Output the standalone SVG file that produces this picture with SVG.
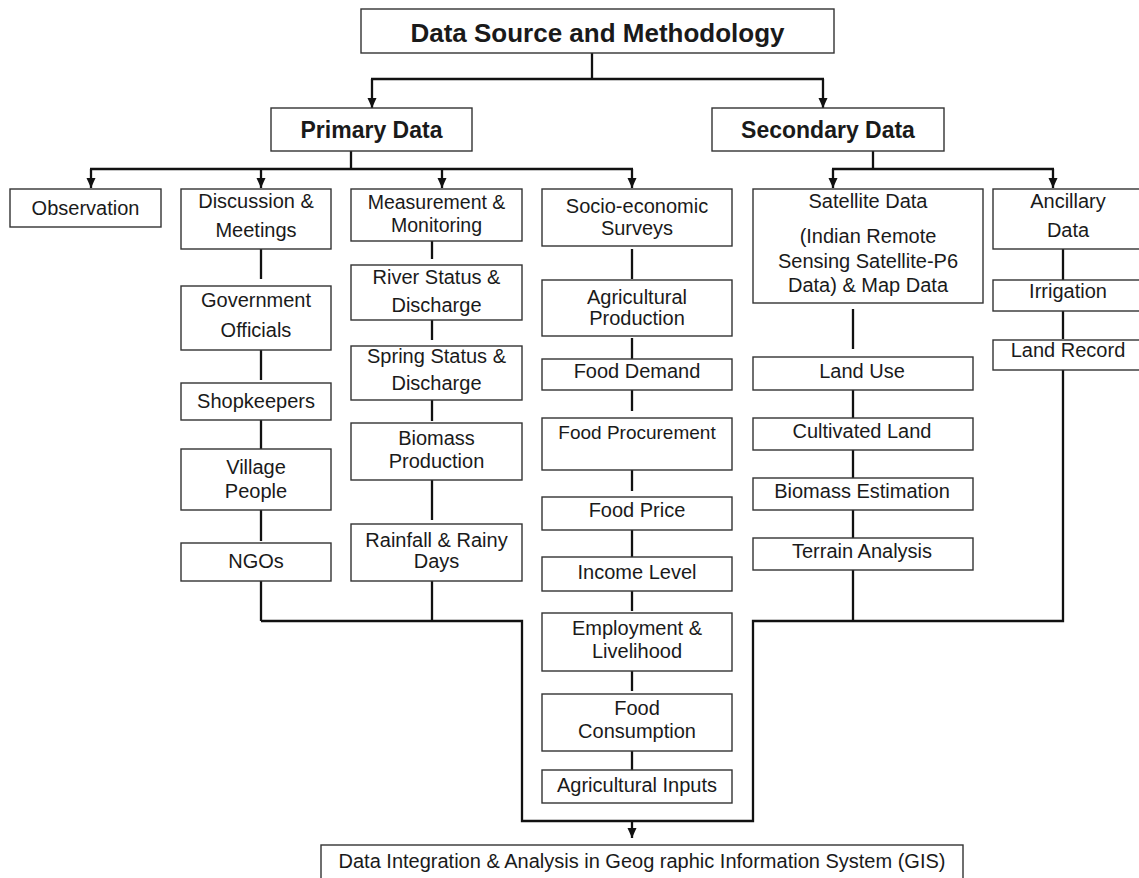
<svg xmlns="http://www.w3.org/2000/svg" width="1139" height="878" viewBox="0 0 1139 878">
<defs>
<marker id="arr" markerUnits="userSpaceOnUse" markerWidth="10" markerHeight="10" viewBox="0 0 10 10" refX="10" refY="5" orient="auto">
<path d="M0,0.5 L10,5 L0,9.5 z" fill="#111"/>
</marker>
</defs>
<style>
rect{fill:#fff;stroke:#333;stroke-width:1.4}
text{font-family:"Liberation Sans",Arial,Helvetica,sans-serif;font-size:20px;fill:#1a1a1a;text-anchor:middle}
.b{font-weight:bold;font-size:23px}
.t{font-weight:bold;font-size:26px}
#connectors line,#connectors polyline,#connectors path{stroke:#111;stroke-width:2.3;fill:none}
</style>
<rect x="0" y="0" width="1139" height="878" style="fill:#fff;stroke:none"/>

<g id="connectors">
<line x1="592" y1="53" x2="592" y2="79"/>
<line x1="371" y1="79" x2="824" y2="79"/>
<line x1="372" y1="79" x2="372" y2="108" marker-end="url(#arr)"/>
<line x1="823" y1="79" x2="823" y2="108" marker-end="url(#arr)"/>
<line x1="351" y1="151" x2="351" y2="169"/>
<line x1="90" y1="169" x2="633" y2="169"/>
<line x1="91" y1="169" x2="91" y2="188" marker-end="url(#arr)"/>
<line x1="261" y1="169" x2="261" y2="188" marker-end="url(#arr)"/>
<line x1="442" y1="169" x2="442" y2="188" marker-end="url(#arr)"/>
<line x1="632" y1="169" x2="632" y2="188" marker-end="url(#arr)"/>
<line x1="873" y1="151" x2="873" y2="169"/>
<line x1="832" y1="169" x2="1054" y2="169"/>
<line x1="833" y1="169" x2="833" y2="188" marker-end="url(#arr)"/>
<line x1="1053" y1="169" x2="1053" y2="188" marker-end="url(#arr)"/>
<line x1="261" y1="249" x2="261" y2="279"/>
<line x1="261" y1="350" x2="261" y2="380"/>
<line x1="261" y1="420" x2="261" y2="450"/>
<line x1="261" y1="510" x2="261" y2="541"/>
<line x1="432" y1="239" x2="432" y2="259"/>
<line x1="432" y1="320" x2="432" y2="340"/>
<line x1="432" y1="400" x2="432" y2="421"/>
<line x1="432" y1="480" x2="432" y2="520"/>
<line x1="632" y1="249" x2="632" y2="279"/>
<line x1="632" y1="338" x2="632" y2="359"/>
<line x1="632" y1="390" x2="632" y2="411"/>
<line x1="632" y1="470" x2="632" y2="491"/>
<line x1="632" y1="530" x2="632" y2="560"/>
<line x1="632" y1="591" x2="632" y2="611"/>
<line x1="632" y1="671" x2="632" y2="691"/>
<line x1="632" y1="751" x2="632" y2="770"/>
<line x1="853" y1="309" x2="853" y2="349"/>
<line x1="853" y1="390" x2="853" y2="419"/>
<line x1="853" y1="450" x2="853" y2="480"/>
<line x1="853" y1="510" x2="853" y2="540"/>
<line x1="1063" y1="249" x2="1063" y2="280"/>
<line x1="1063" y1="311" x2="1063" y2="339"/>
<line x1="261" y1="581" x2="261" y2="621"/>
<line x1="432" y1="581" x2="432" y2="621"/>
<line x1="853" y1="570" x2="853" y2="621"/>
<polyline points="261,621 522,621 522,821 753,821 753,621 1063,621 1063,370"/>
<line x1="632" y1="821" x2="632" y2="838" marker-end="url(#arr)"/>
</g>

<g id="n-title"><rect x="361" y="9" width="473" height="44"/><text class="t" x="597.5" y="42">Data Source and Methodology</text></g>
<g id="n-primary"><rect x="271" y="108" width="201" height="43"/><text class="b" x="371.5" y="138">Primary Data</text></g>
<g id="n-secondary"><rect x="712" y="108" width="232" height="43"/><text class="b" x="828" y="138">Secondary Data</text></g>

<g id="n-observation"><rect x="10" y="189" width="151" height="38"/><text x="85.5" y="215">Observation</text></g>
<g id="n-discussion"><rect x="181" y="189" width="150" height="60"/><text x="256" y="208">Discussion &amp;</text><text x="256" y="237">Meetings</text></g>
<g id="n-measurement"><rect x="351" y="189" width="171" height="52"/><text x="436.5" y="209" style="font-size:19.5px">Measurement &amp;</text><text x="436.5" y="232" style="font-size:19.5px">Monitoring</text></g>
<g id="n-socio"><rect x="542" y="189" width="190" height="57"/><text x="637" y="213">Socio-economic</text><text x="637" y="235">Surveys</text></g>
<g id="n-satellite"><rect x="753" y="189" width="230" height="114"/><text x="868" y="208">Satellite Data</text><text x="868" y="243">(Indian Remote</text><text x="868" y="268">Sensing Satellite-P6</text><text x="868" y="292">Data) &amp; Map Data</text></g>
<g id="n-ancillary"><rect x="993" y="189" width="152" height="60"/><text x="1068" y="208">Ancillary</text><text x="1068" y="237">Data</text></g>

<g id="n-government"><rect x="181" y="286" width="150" height="64"/><text x="256" y="307">Government</text><text x="256" y="337">Officials</text></g>
<g id="n-shopkeepers"><rect x="181" y="383" width="150" height="37"/><text x="256" y="408">Shopkeepers</text></g>
<g id="n-village"><rect x="181" y="449" width="150" height="61"/><text x="256" y="474">Village</text><text x="256" y="498">People</text></g>
<g id="n-ngos"><rect x="181" y="543" width="150" height="38"/><text x="256" y="568">NGOs</text></g>

<g id="n-river"><rect x="351" y="265" width="171" height="55"/><text x="436.5" y="284">River Status &amp;</text><text x="436.5" y="312">Discharge</text></g>
<g id="n-spring"><rect x="351" y="346" width="171" height="54"/><text x="436.5" y="363">Spring Status &amp;</text><text x="436.5" y="390">Discharge</text></g>
<g id="n-biomass-prod"><rect x="351" y="423" width="171" height="57"/><text x="436.5" y="445">Biomass</text><text x="436.5" y="468">Production</text></g>
<g id="n-rainfall"><rect x="351" y="524" width="171" height="57"/><text x="436.5" y="547">Rainfall &amp; Rainy</text><text x="436.5" y="568">Days</text></g>

<g id="n-agri-prod"><rect x="542" y="280" width="190" height="56"/><text x="637" y="304">Agricultural</text><text x="637" y="325">Production</text></g>
<g id="n-food-demand"><rect x="542" y="359" width="190" height="31"/><text x="637" y="378">Food Demand</text></g>
<g id="n-food-procurement"><rect x="542" y="418" width="190" height="52"/><text x="637" y="439" style="font-size:19px">Food Procurement</text></g>
<g id="n-food-price"><rect x="542" y="497" width="190" height="33"/><text x="637" y="517">Food Price</text></g>
<g id="n-income"><rect x="542" y="557" width="190" height="34"/><text x="637" y="579">Income Level</text></g>
<g id="n-employment"><rect x="542" y="613" width="190" height="58"/><text x="637" y="635">Employment &amp;</text><text x="637" y="658">Livelihood</text></g>
<g id="n-food-consumption"><rect x="542" y="694" width="190" height="57"/><text x="637" y="715">Food</text><text x="637" y="738">Consumption</text></g>
<g id="n-agri-inputs"><rect x="542" y="770" width="190" height="33"/><text x="637" y="792">Agricultural Inputs</text></g>

<g id="n-land-use"><rect x="753" y="357" width="220" height="33"/><text x="862" y="378">Land Use</text></g>
<g id="n-cultivated"><rect x="753" y="418" width="220" height="32"/><text x="862" y="438">Cultivated Land</text></g>
<g id="n-biomass-est"><rect x="753" y="478" width="220" height="32"/><text x="862" y="498">Biomass Estimation</text></g>
<g id="n-terrain"><rect x="753" y="538" width="220" height="32"/><text x="862" y="558">Terrain Analysis</text></g>

<g id="n-irrigation"><rect x="993" y="280" width="152" height="31"/><text x="1068" y="298">Irrigation</text></g>
<g id="n-land-record"><rect x="993" y="340" width="152" height="30"/><text x="1068" y="357">Land Record</text></g>

<g id="n-gis"><rect x="321" y="845" width="642" height="40"/><text x="642" y="868">Data Integration &amp; Analysis in Geog raphic Information System (GIS)</text></g>
</svg>
